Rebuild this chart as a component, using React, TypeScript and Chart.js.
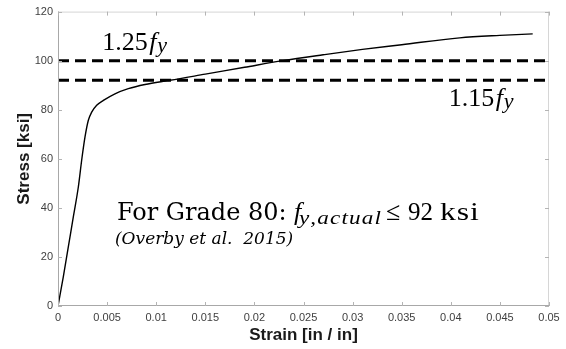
import React, { useEffect, useRef } from 'react';
import { Chart, registerables } from 'chart.js';

Chart.register(...registerables);

// Stress-strain curve (Grade 80 bar)
const strain = [0, 0.00054, 0.00105, 0.00156, 0.00207, 0.00241, 0.00275, 0.00309, 0.00343, 0.00394, 0.00462, 0.0058, 0.00716, 0.00886, 0.0109, 0.0114, 0.015, 0.019, 0.0229, 0.027, 0.031, 0.035, 0.0409, 0.045, 0.04834];
const stress = [0, 11.9, 24.1, 36.3, 48.5, 59.4, 68.9, 75.7, 79.0, 81.8, 83.8, 86.5, 88.6, 90.3, 91.7, 92.0, 94.5, 97.3, 100.0, 102.4, 104.6, 106.5, 109.3, 110.3, 110.9];

// Limit lines: 1.25 fy and 1.15 fy
const limitLevels = [100, 92];

const xTicks = [0, 0.005, 0.01, 0.015, 0.02, 0.025, 0.03, 0.035, 0.04, 0.045, 0.05];
const xTickLabels = ['0', '0.005', '0.01', '0.015', '0.02', '0.025', '0.03', '0.035', '0.04', '0.045', '0.05'];
const yTicks = [0, 20, 40, 60, 80, 100, 120];
const yTickLabels = ['0', '20', '40', '60', '80', '100', '120'];

type Run = { t: string; font: string; ox: number; dy?: number; w?: number };

// draw text runs at offsets from an anchor; optional target width widens glyphs slightly
function drawRuns(ctx: CanvasRenderingContext2D, x: number, y: number, runs: Run[]) {
  for (const r of runs) {
    ctx.font = r.font;
    const yy = y + (r.dy || 0);
    if (r.w && r.t.length > 1) {
      const chars = Array.from(r.t);
      const widths = chars.map((c) => ctx.measureText(c).width);
      const total = widths.reduce((s, v) => s + v, 0);
      const sx = Math.min(1.22, r.w / total);
      const gap = Math.max(0, (r.w - total * sx) / (chars.length - 1));
      let cx = x + r.ox;
      chars.forEach((c, i) => {
        ctx.save();
        ctx.translate(cx, yy);
        ctx.scale(sx, 1);
        ctx.fillText(c, 0, 0);
        ctx.restore();
        cx += widths[i] * sx + gap;
      });
    } else {
      ctx.fillText(r.t, x + r.ox, yy);
    }
  }
}

const framePlugin = {
  id: 'frame',
  afterDatasetsDraw(chart: any) {
    const { ctx, chartArea: a, scales } = chart;
    const xs = scales.x;
    const ys = scales.y;
    ctx.save();
    ctx.lineWidth = 1;
    // box
    ctx.strokeStyle = '#d6d6d6';
    ctx.beginPath();
    ctx.moveTo(a.left, a.top + 0.5);
    ctx.lineTo(a.right, a.top + 0.5);
    ctx.moveTo(a.right - 0.5, a.top);
    ctx.lineTo(a.right - 0.5, a.bottom);
    ctx.stroke();
    ctx.strokeStyle = '#a8a8a8';
    ctx.beginPath();
    ctx.moveTo(a.left + 0.5, a.top);
    ctx.lineTo(a.left + 0.5, a.bottom);
    ctx.moveTo(a.left, a.bottom - 0.5);
    ctx.lineTo(a.right, a.bottom - 0.5);
    ctx.stroke();
    // inward ticks
    const tl = 4;
    ctx.beginPath();
    for (const v of xTicks) {
      const px = Math.round(xs.getPixelForValue(v)) + 0.5;
      ctx.moveTo(px, a.bottom);
      ctx.lineTo(px, a.bottom - tl);
      ctx.moveTo(px, a.top);
      ctx.lineTo(px, a.top + tl);
    }
    for (const v of yTicks) {
      const py = Math.round(ys.getPixelForValue(v)) + 0.5;
      ctx.moveTo(a.left, py);
      ctx.lineTo(a.left + tl, py);
      ctx.moveTo(a.right, py);
      ctx.lineTo(a.right - tl, py);
    }
    ctx.strokeStyle = '#b4b4b4';
    ctx.stroke();

    // annotations
    ctx.fillStyle = '#000';
    ctx.textAlign = 'left';
    ctx.textBaseline = 'alphabetic';
    const serif = '"Liberation Serif", serif';
    const book = '"DejaVu Serif", serif';
    const fyRuns = (num: string): Run[] => [
      { t: num, font: `26px ${serif}`, ox: 0 },
      { t: 'f', font: `italic 26px ${serif}`, ox: 47 },
      { t: 'y', font: `italic 22px ${serif}`, ox: 55, dy: 2 },
    ];
    drawRuns(ctx, xs.getPixelForValue(0.0045), ys.getPixelForValue(104.2), fyRuns('1.25'));
    drawRuns(ctx, xs.getPixelForValue(0.0398), ys.getPixelForValue(81.4), fyRuns('1.15'));
    drawRuns(ctx, xs.getPixelForValue(0.006), ys.getPixelForValue(35.0), [
      { t: 'For Grade 80:', font: `24px ${book}`, ox: 0 },
      { t: 'f', font: `italic 26px ${serif}`, ox: 177 },
      { t: 'y,actual', font: `italic 19px ${serif}`, ox: 182, dy: 4, w: 82 },
      { t: '\u2264', font: `26px ${serif}`, ox: 269 },
      { t: '92', font: `26px ${serif}`, ox: 291, w: 25 },
      { t: 'ksi', font: `26px ${serif}`, ox: 323, w: 39 },
    ]);
    drawRuns(ctx, xs.getPixelForValue(0.0058), ys.getPixelForValue(25.2), [
      { t: '(Overby et al.  2015)', font: `italic 17px ${book}`, ox: 0 },
    ]);
    ctx.restore();
  },
};

export default function App() {
  const ref = useRef<HTMLCanvasElement | null>(null);

  useEffect(() => {
    document.body.style.margin = '0';
    const canvas = ref.current;
    if (!canvas) return;
    const curve = strain.map((x, i) => ({ x, y: stress[i] }));
    const limitSets = limitLevels.map((lv) => ({
      data: [
        { x: 0, y: lv },
        { x: 0.05, y: lv },
      ],
      showLine: true,
      borderColor: '#000',
      borderWidth: 3,
      borderDash: [11, 6],
      pointRadius: 0,
    }));
    const chart = new Chart(canvas, {
      type: 'scatter',
      data: {
        datasets: [
          {
            data: curve,
            showLine: true,
            borderColor: '#000',
            borderWidth: 1.4,
            pointRadius: 0,
            cubicInterpolationMode: 'monotone',
          } as any,
          ...limitSets,
        ],
      },
      options: {
        animation: false,
        responsive: false,
        devicePixelRatio: 1,
        layout: { padding: { top: 11, right: 17, left: 0, bottom: 0 } },
        plugins: { legend: { display: false }, tooltip: { enabled: false } },
        scales: {
          x: {
            type: 'linear',
            min: 0,
            max: 0.05,
            afterBuildTicks: (s: any) => {
              s.ticks = xTicks.map((v) => ({ value: v }));
            },
            afterFit: (s: any) => {
              s.height = 43;
            },
            ticks: {
              callback: (v: any) => xTickLabels[xTicks.indexOf(v)],
              font: { family: '"Liberation Sans", Arial, sans-serif', size: 11 },
              color: '#404040',
              padding: 5,
              maxRotation: 0,
              autoSkip: false,
            },
            grid: { display: false, drawTicks: false },
            border: { display: false },
            title: {
              display: true,
              text: 'Strain [in / in]',
              font: { family: '"Liberation Sans", Arial, sans-serif', size: 17, weight: 'bold' },
              color: '#1a1a1a',
              padding: { top: 0, bottom: 3 },
            },
          },
          y: {
            type: 'linear',
            min: 0,
            max: 120,
            afterBuildTicks: (s: any) => {
              s.ticks = yTicks.map((v) => ({ value: v }));
            },
            afterFit: (s: any) => {
              s.width = 58;
            },
            ticks: {
              callback: (v: any) => yTickLabels[yTicks.indexOf(v)],
              font: { family: '"Liberation Sans", Arial, sans-serif', size: 11 },
              color: '#404040',
              padding: 5,
              autoSkip: false,
            },
            grid: { display: false, drawTicks: false },
            border: { display: false },
            title: {
              display: true,
              text: 'Stress [ksi]',
              font: { family: '"Liberation Sans", Arial, sans-serif', size: 17, weight: 'bold' },
              color: '#1a1a1a',
              padding: { top: 14, bottom: 0 },
            },
          },
        },
      } as any,
      plugins: [framePlugin],
    });
    return () => chart.destroy();
  }, []);

  return (
    <div style={{ width: 566, height: 349, background: '#fff' }}>
      <canvas ref={ref} width={566} height={349} style={{ display: 'block' }} />
    </div>
  );
}
